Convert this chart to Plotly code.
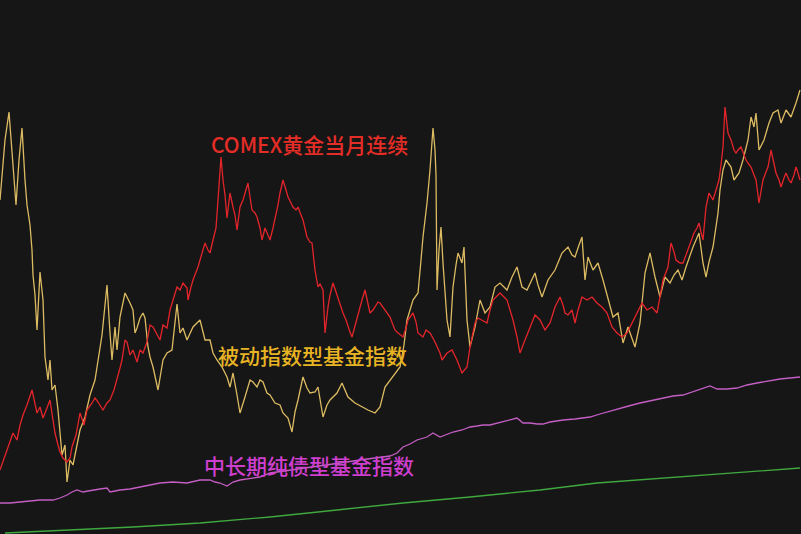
import plotly.graph_objects as go

# x positions: trading-day index (0..800); values: relative index level
passive_x = [0,3,5,9,12,14,16,19,22,25,27,30,32,33,35,37,40,43,44,45,48,50,52,55,58,60,62,65,67,70,73,76,80,85,90,95,98,102,105,107,110,112,115,117,120,125,130,133,135,137,140,143,145,148,150,153,158,163,167,172,177,180,183,187,193,200,205,210,213,217,222,227,230,233,237,240,245,250,253,257,260,263,267,270,275,280,283,288,292,295,298,303,307,310,315,318,323,327,330,337,342,348,355,362,368,375,380,385,390,395,400,404,407,413,418,421,423,427,430,433,435,436,437,439,441,443,447,450,453,456,458,462,464,467,470,475,480,485,490,495,500,507,512,517,522,527,533,535,538,542,548,555,562,568,572,575,579,582,585,588,593,598,603,608,613,618,623,628,635,640,645,650,655,660,665,670,674,678,682,686,690,693,696,699,703,706,709,713,718,720,723,726,731,734,739,743,748,751,754,756,759,764,769,773,778,781,786,791,796,800]
passive_v = [334,369,394,422,384,354,329,374,406,354,329,309,284,259,239,204,262,234,207,177,154,174,144,149,124,99,79,89,52,74,69,84,104,117,139,154,172,199,229,249,201,174,207,184,217,241,231,224,201,206,216,221,216,187,177,167,144,174,181,184,230,201,206,194,207,214,194,194,181,174,167,157,147,161,139,121,137,154,152,147,154,152,141,139,131,129,121,116,102,122,134,157,146,141,142,147,117,129,134,141,151,137,131,127,124,121,127,147,154,161,167,189,214,234,241,274,297,331,364,406,384,359,244,284,307,271,214,197,247,269,281,271,287,214,187,207,234,221,227,247,251,244,257,267,247,244,257,261,249,237,254,264,281,287,279,277,289,297,254,277,264,271,254,234,217,221,191,207,187,211,261,281,257,237,257,251,259,264,254,267,279,287,294,301,271,257,272,287,321,344,364,374,367,354,361,374,394,417,407,421,384,394,411,421,424,411,424,417,431,444]

gold_x = [0,5,10,13,17,20,23,27,32,35,37,40,43,47,50,53,55,58,60,63,67,70,72,76,80,84,87,92,95,98,103,107,110,114,117,120,122,125,127,130,133,137,140,143,147,150,153,157,160,163,167,170,173,177,180,183,187,188,191,193,198,202,205,208,210,213,216,218,221,223,225,227,230,233,235,237,240,243,245,248,250,252,255,257,260,262,265,268,270,273,275,278,280,283,286,288,291,293,296,298,301,303,307,310,312,315,318,320,323,325,328,330,333,336,338,341,343,346,348,350,352,355,357,360,362,365,368,370,373,375,378,380,383,385,388,390,393,395,398,400,403,406,408,413,416,418,423,426,430,434,437,440,442,447,452,457,462,465,467,470,475,478,482,487,490,493,497,500,504,507,510,513,517,520,525,530,535,540,545,550,555,560,563,565,568,572,575,578,582,587,592,597,602,607,612,617,622,627,632,637,642,647,652,657,660,663,668,671,674,676,680,683,686,689,692,694,697,699,701,703,706,709,713,716,719,721,723,725,727,728,731,734,736,738,741,744,746,748,751,754,756,759,761,763,766,768,771,774,776,779,781,784,786,789,791,794,796,798,800]
gold_v = [64,79,94,101,94,109,119,129,144,129,121,127,116,126,134,114,101,89,82,76,72,76,87,99,121,109,124,131,136,132,124,131,134,144,154,166,174,194,192,179,184,172,184,181,192,209,207,199,194,209,206,224,234,247,244,251,246,234,247,254,267,281,291,284,281,294,306,334,377,354,339,316,341,327,319,304,327,334,341,351,337,324,321,317,306,294,306,299,294,306,314,329,341,354,344,337,331,327,324,327,319,314,297,292,291,264,247,250,244,201,227,239,251,242,234,226,221,214,207,202,197,209,217,229,234,244,231,221,224,227,232,231,227,224,220,217,209,204,201,199,197,206,214,221,212,201,197,204,201,194,187,181,174,181,184,174,161,164,167,187,211,216,214,211,224,234,238,241,237,234,224,214,197,181,194,207,219,214,204,211,227,237,229,221,219,224,211,224,237,234,237,231,227,221,207,201,197,201,211,221,231,224,227,221,237,254,267,291,282,274,271,271,279,287,294,301,306,311,302,294,327,341,334,344,354,369,387,427,409,401,394,384,381,384,387,379,374,371,367,359,354,331,344,354,362,367,384,369,361,354,347,356,361,354,351,359,367,361,354]

bond_x = [0,10,20,30,40,53,60,67,72,77,83,88,93,100,107,110,115,120,130,140,150,160,173,187,200,210,215,220,227,233,240,247,260,270,285,300,320,340,360,380,390,397,403,410,417,427,433,440,447,453,462,470,477,483,490,497,503,510,517,523,530,537,543,550,563,575,590,600,613,625,640,650,663,673,683,692,700,705,710,717,727,737,747,757,767,780,790,800]
bond_v = [31,31,32,33,34,34,36,39,42,44,42,43,44,45,46,42,43,44,45,47,49,51,52,51,54,54,52,51,48,52,54,55,57,61,63,65,68,71,74,77,78,81,87,90,94,97,101,97,100,102,104,107,108,109,109,111,112,114,116,111,111,110,110,112,114,115,117,120,124,127,131,133,136,138,139,142,144,146,148,145,145,146,149,151,153,155,156,157]

green_x = [5,67,133,200,270,337,403,470,540,597,663,730,800]
green_v = [1,4,7,11,17,24,31,37,44,51,56,61,66]

label_gold = "COMEX黄金当月连续"
label_passive = "被动指数型基金指数"
label_bond = "中长期纯债型基金指数"

BG = "#161616"
fig = go.Figure()
fig.add_trace(go.Scatter(x=green_x, y=green_v, mode="lines",
                         line=dict(color="#3fa83f", width=1.3), hoverinfo="skip"))
fig.add_trace(go.Scatter(x=bond_x, y=bond_v, mode="lines",
                         line=dict(color="#c45ec4", width=1.3), hoverinfo="skip"))
fig.add_trace(go.Scatter(x=passive_x, y=passive_v, mode="lines",
                         line=dict(color="#dcbb62", width=1.3), hoverinfo="skip"))
fig.add_trace(go.Scatter(x=gold_x, y=gold_v, mode="lines",
                         line=dict(color="#e3252b", width=1.3), hoverinfo="skip"))

font_family = "Noto Sans CJK SC, Noto Sans, sans-serif"
fig.add_annotation(x=209, y=390, text=label_gold, showarrow=False, xanchor="left",
                   yanchor="middle", font=dict(family=font_family, size=21, color="#e52d27", weight=500))
fig.add_annotation(x=216, y=179, text=label_passive, showarrow=False, xanchor="left",
                   yanchor="middle", font=dict(family=font_family, size=21, color="#e8b424", weight=500))
fig.add_annotation(x=202, y=69, text=label_bond, showarrow=False, xanchor="left",
                   yanchor="middle", font=dict(family=font_family, size=21, color="#cf3fcf", weight=500))

fig.update_layout(
    width=801, height=534,
    margin=dict(l=0, r=0, t=0, b=0),
    paper_bgcolor=BG, plot_bgcolor=BG,
    showlegend=False,
    xaxis=dict(range=[0, 801], visible=False, fixedrange=True),
    yaxis=dict(range=[0, 534], visible=False, fixedrange=True),
)
fig.write_html(
    "out.html",
    config={"displayModeBar": False},
    post_script="document.body.style.margin='0';document.body.style.background='#161616';",
)
